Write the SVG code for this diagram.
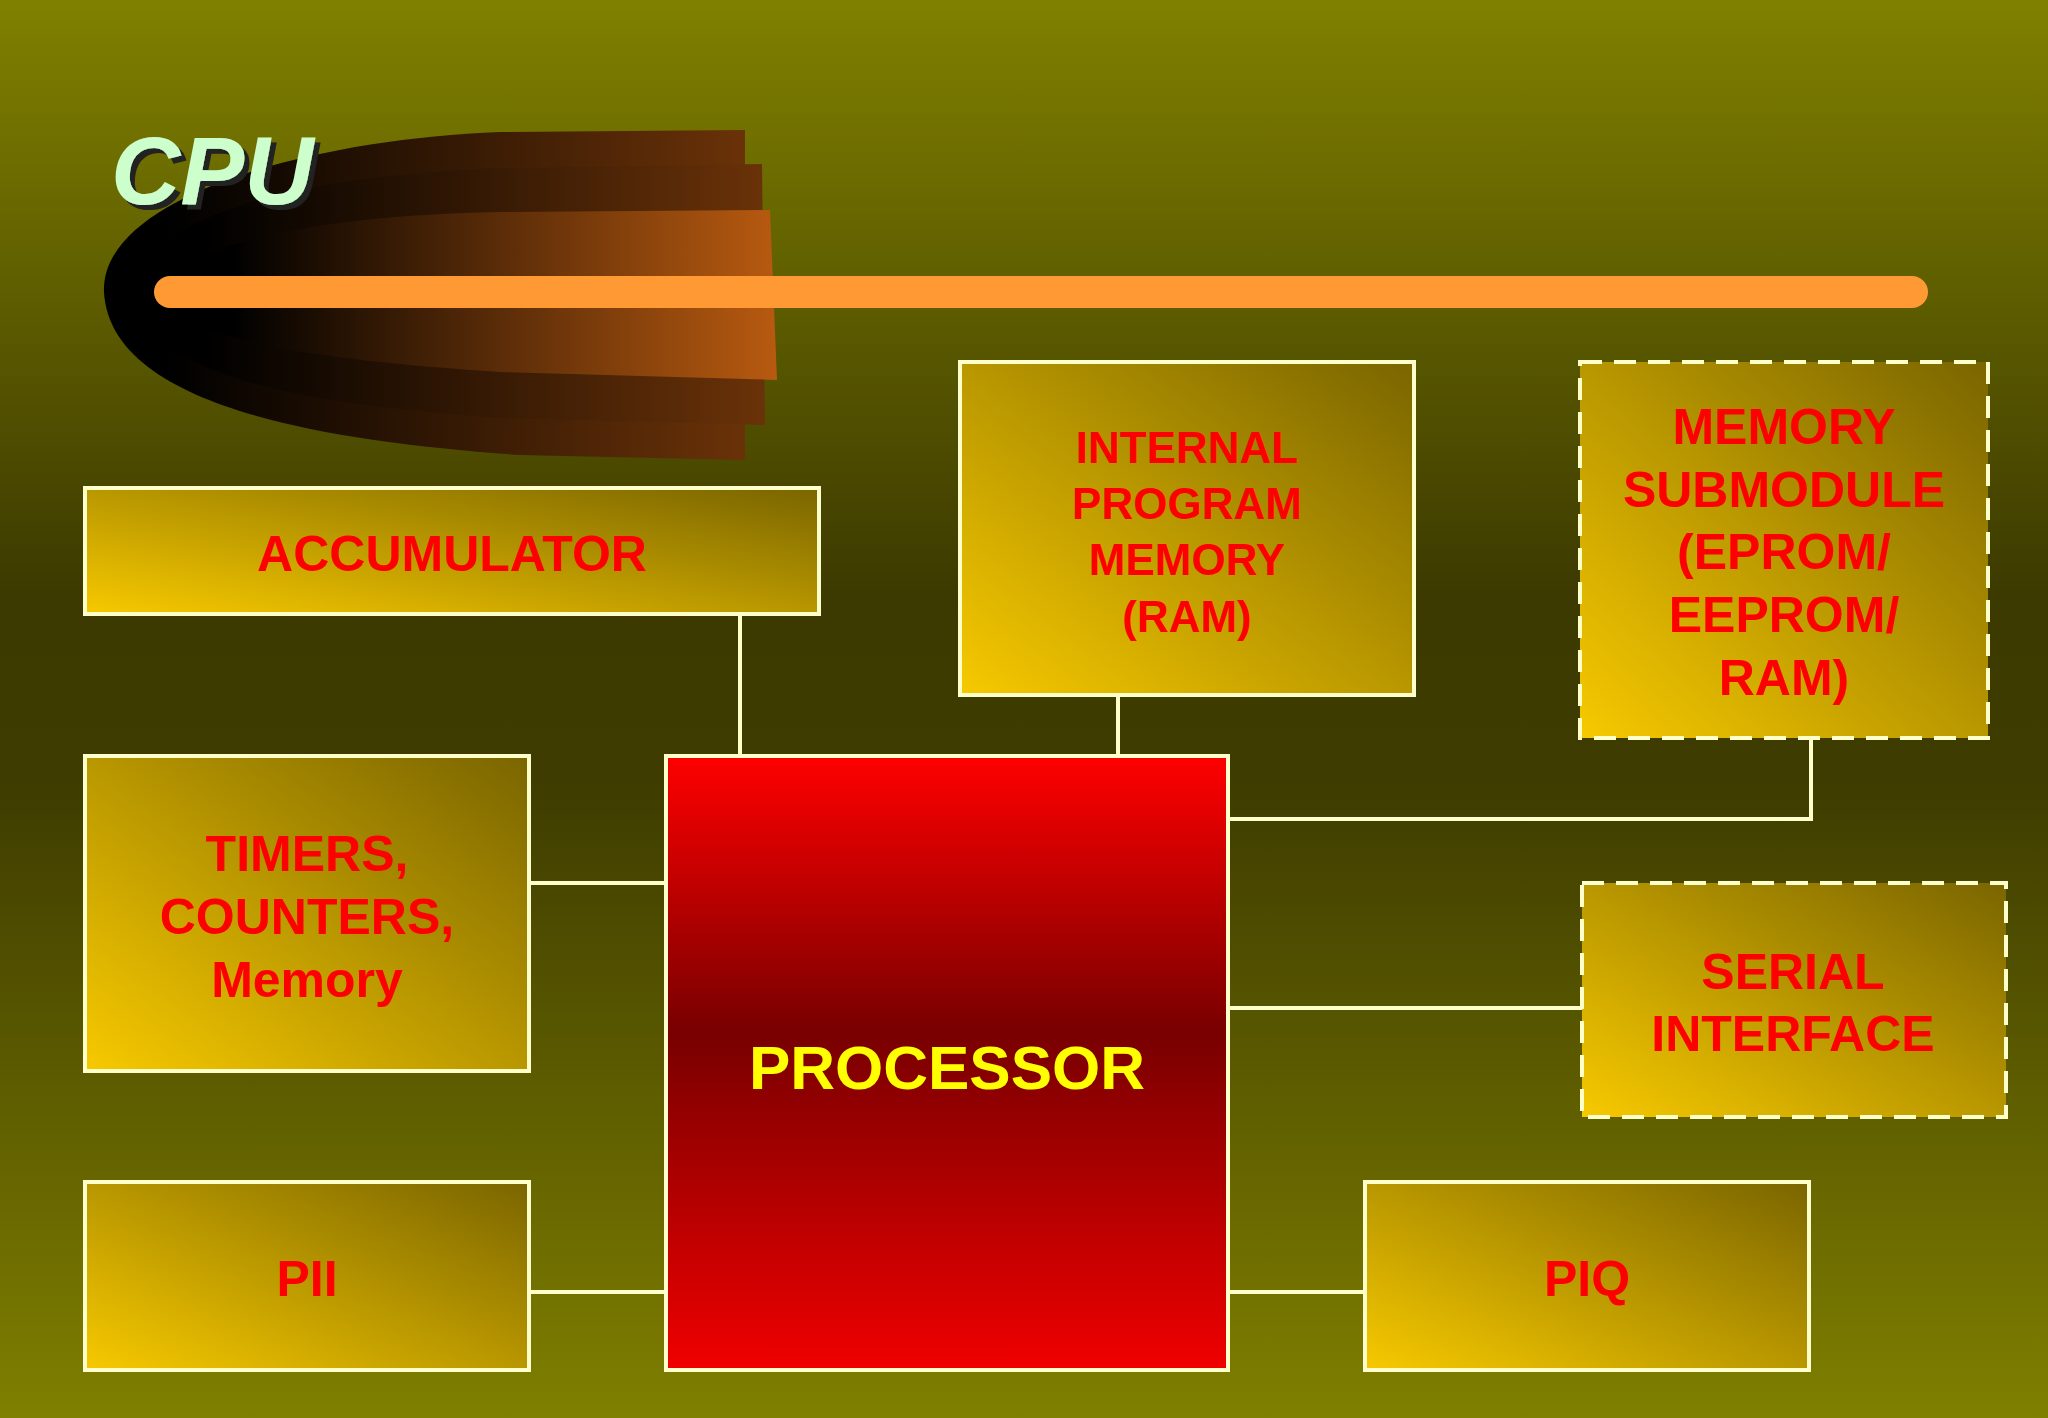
<svg xmlns="http://www.w3.org/2000/svg" width="2048" height="1418" viewBox="0 0 2048 1418">
<defs>
<linearGradient id="bg" x1="0" y1="0" x2="0" y2="1">
<stop offset="0" stop-color="#808000"/><stop offset="0.42" stop-color="#3c3a00"/><stop offset="0.55" stop-color="#3e3c00"/><stop offset="1" stop-color="#7f7f00"/>
</linearGradient>
<linearGradient id="box" x1="0" y1="1" x2="1" y2="0">
<stop offset="0" stop-color="#f7c900"/><stop offset="1" stop-color="#7a6500"/>
</linearGradient>
<linearGradient id="proc" x1="0" y1="0" x2="0" y2="1">
<stop offset="0" stop-color="#ff0000"/><stop offset="0.45" stop-color="#780000"/><stop offset="1" stop-color="#f00000"/>
</linearGradient>
<linearGradient id="sw" x1="0" y1="0" x2="1" y2="0">
<stop offset="0.1" stop-color="#000"/><stop offset="1" stop-color="#b85a10"/>
</linearGradient>
<linearGradient id="sw2" x1="0" y1="0" x2="1" y2="0">
<stop offset="0.1" stop-color="#000"/><stop offset="1" stop-color="#6a3208"/>
</linearGradient>
<filter id="sh" x="-10%" y="-20%" width="130%" height="150%">
<feDropShadow dx="5" dy="5" stdDeviation="0.5" flood-color="#222"/>
</filter>
</defs>
<style>
.b{stroke:#ffffcc;stroke-width:4}
.d{stroke-dasharray:22 12}
.t{font-family:"Liberation Sans",Arial,sans-serif;font-weight:bold;fill:#ff0000;text-anchor:middle;dominant-baseline:central}
.c{stroke:#ffffcc;stroke-width:4;fill:none}
</style>
<rect width="2048" height="1418" fill="url(#bg)"/>
<g id="swoosh">
<path d="M745 130 L745 460 L520 455 C300 440 110 400 104 292 C100 200 300 140 500 132 Z" fill="url(#sw2)"/>
<path d="M762 164 L765 425 L500 418 C320 405 140 380 140 292 C140 210 320 175 500 168 Z" fill="url(#sw2)"/>
<path d="M770 210 L777 380 L500 372 C320 360 170 340 170 292 C170 245 320 215 500 212 Z" fill="url(#sw)"/>
</g>
<rect x="154" y="276" width="1774" height="32" rx="16" fill="#ff9933"/>
<text x="111" y="204" font-family="Liberation Sans,Arial,sans-serif" font-weight="bold" font-style="italic" font-size="96" fill="#ccffcc" filter="url(#sh)">CPU</text>
<g id="connectors">
<path class="c" d="M740 614V756M1118 695V756M1228 819H1811V738M529 883H666M1228 1008H1582M529 1292H666M1228 1292H1365"/>
</g>
<g id="accumulator"><rect class="b" x="85" y="488" width="734" height="126" fill="url(#box)"/><text class="t" x="452" y="554" font-size="50">ACCUMULATOR</text></g>
<g id="ipm"><rect class="b" x="960" y="362" width="454" height="333" fill="url(#box)"/>
<text class="t" font-size="44"><tspan x="1187" y="447">INTERNAL</tspan><tspan x="1187" y="503">PROGRAM</tspan><tspan x="1187" y="559">MEMORY</tspan><tspan x="1187" y="616">(RAM)</tspan></text></g>
<g id="memsub"><rect class="b d" x="1580" y="362" width="408" height="376" fill="url(#box)"/>
<text class="t" font-size="50"><tspan x="1784" y="427">MEMORY</tspan><tspan x="1784" y="490">SUBMODULE</tspan><tspan x="1784" y="552">(EPROM/</tspan><tspan x="1784" y="615">EEPROM/</tspan><tspan x="1784" y="678">RAM)</tspan></text></g>
<g id="timers"><rect class="b" x="85" y="756" width="444" height="315" fill="url(#box)"/>
<text class="t" font-size="50"><tspan x="307" y="854">TIMERS,</tspan><tspan x="307" y="917">COUNTERS,</tspan><tspan x="307" y="980">Memory</tspan></text></g>
<g id="processor"><rect class="b" x="666" y="756" width="562" height="614" fill="url(#proc)"/><text class="t" x="947" y="1067" font-size="62" style="fill:#ffff00">PROCESSOR</text></g>
<g id="serial"><rect class="b d" x="1582" y="883" width="424" height="234" fill="url(#box)"/>
<text class="t" font-size="50"><tspan x="1793" y="972">SERIAL</tspan><tspan x="1793" y="1034">INTERFACE</tspan></text></g>
<g id="pii"><rect class="b" x="85" y="1182" width="444" height="188" fill="url(#box)"/><text class="t" x="307" y="1279" font-size="50">PII</text></g>
<g id="piq"><rect class="b" x="1365" y="1182" width="444" height="188" fill="url(#box)"/><text class="t" x="1587" y="1279" font-size="50">PIQ</text></g>
</svg>
